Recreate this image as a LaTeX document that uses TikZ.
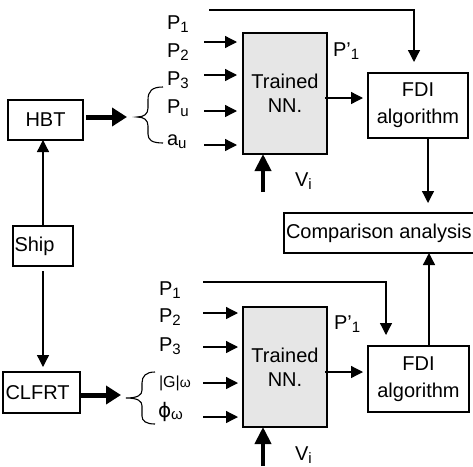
\documentclass[tikz,border=0pt]{standalone}
\usepackage{fontspec}
\setmainfont{Liberation Sans}
\newfontfamily\dejavu{DejaVu Sans}
\usetikzlibrary{arrows.meta}
\definecolor{nnfill}{RGB}{230,230,230}
\newcommand\sbs[1]{\raisebox{-3.5pt}{\fontsize{15}{15}\selectfont #1}}
\begin{document}
\begin{tikzpicture}[x=1pt,y=-1pt,
  every node/.style={font=\fontsize{20}{24}\selectfont, inner sep=0pt, outer sep=0pt},
  box/.style={draw, line width=1.3pt},
  nnbox/.style={box, fill=nnfill, minimum width=84pt, align=center},
  fdibox/.style={box, minimum width=100pt, minimum height=65pt, align=center, font=\fontsize{20}{27}\selectfont},
  lbl/.style={anchor=base west},
  arr/.style={-{Triangle[length=12pt,width=12pt]}, line width=1.3pt},
  tarr/.style={-{Triangle[length=15pt,width=18pt]}, line width=5pt},
  varr/.style={-{Triangle[length=17pt,width=16pt]}, line width=4pt}]
\useasboundingbox (0,0) rectangle (473,466);

% boxes
\node[box, minimum width=75pt, minimum height=40pt] (hbt) at (45.5,120) {HBT};
\node[box, minimum width=60pt, minimum height=40pt, text width=57pt, align=left] (ship) at (43,246) {Ship};
\node[box, minimum width=77pt, minimum height=41pt, text width=72pt, align=left] (clfrt) at (41.5,392.5) {CLFRT};
\node[nnbox, minimum height=121pt] (nn1) at (285,93.5) {Trained\\NN.};
\node[nnbox, minimum height=120pt] (nn2) at (285,367) {Trained\\NN.};
\node[fdibox] (fdi1) at (418,105.5) {FDI\\algorithm};
\node[fdibox, minimum width=101pt, minimum height=66pt] (fdi2) at (418.5,379) {FDI\\algorithm};
\node[box, inner xsep=2pt, minimum height=40pt, text width=190pt, align=flush left] (comp) at (381,233) {Comparison analysis};

% top labels
\node[lbl] (tp1) at (167,29) {P\sbs{1}};
\node[lbl] (tp2) at (167,57) {P\sbs{2}};
\node[lbl] (tp3) at (167,85) {P\sbs{3}};
\node[lbl] (tpu) at (167,113) {P\sbs{u}};
\node[lbl] (tau) at (167,145) {a\sbs{u}};
\node[lbl] (tpp) at (333,56) {P’\sbs{1}};
\node[lbl] (tvi) at (295,186) {V\sbs{i}};

% bottom labels
\node[lbl] (bp1) at (159,295) {P\sbs{1}};
\node[lbl] (bp2) at (159,322) {P\sbs{2}};
\node[lbl] (bp3) at (159,351) {P\sbs{3}};
\node[lbl] (bg) at (159,387) {{\fontsize{16}{16}\selectfont|G|}{\fontsize{14}{14}\selectfont ω}};
\node[lbl] (bphi) at (158,417) {{\dejavu\fontsize{20}{20}\selectfont ϕ}\raisebox{-2pt}{\fontsize{15}{15}\selectfont ω}};
\node[lbl] (bpp) at (334,329) {P’\sbs{1}};
\node[lbl] (bvi) at (295,460) {V\sbs{i}};

% braces
\draw[line width=1.1pt] (163,87) .. controls (152,87) and (148,91) .. (148,100) -- (148,108)
  .. controls (148,114) and (144,117) .. (137,117) .. controls (144,117) and (148,120) .. (148,126)
  -- (148,134) .. controls (148,140) and (152,143) .. (163,143);
\draw[line width=1.1pt] (155,372) .. controls (146,372) and (142,376) .. (142,383) -- (142,390)
  .. controls (142,395) and (138,398) .. (126,398) .. controls (138,398) and (142,401) .. (142,406)
  -- (142,416) .. controls (142,421) and (146,424) .. (155,424);
\coordinate (br1) at (137,117);
\coordinate (br2) at (125,395);

% coordinates
\coordinate (t1) at (209,10);  \coordinate (c1) at (414,10);
\coordinate (t2) at (204,42);  \coordinate (t3) at (204,75);
\coordinate (t4) at (204,111); \coordinate (t5) at (204,145);
\coordinate (b1) at (203,282); \coordinate (c2) at (386,282);
\coordinate (b2) at (203,313); \coordinate (b3) at (203,347);
\coordinate (b4) at (203,383); \coordinate (b5) at (203,417);
\coordinate (o1) at (325,98);  \coordinate (o2) at (325,372);
\coordinate (d1) at (428,138); \coordinate (d2) at (429,346);
\coordinate (v1) at (263,192); \coordinate (v2) at (263,466);

% connectors top
\draw[arr, shorten >=11pt] (t1) -- (c1) -- (c1 |- fdi1.north);
\foreach \c in {t2,t3,t4,t5} \draw[arr, shorten >=6pt] (\c) -- (\c -| nn1.west);
\draw[arr, shorten >=5pt] (o1) -- (o1 -| fdi1.west);
\draw[arr, shorten >=10pt] (d1 |- fdi1.south) -- (d1 |- comp.north);
\draw[varr] (v1) -- (v1 |- nn1.south);
\draw[tarr, shorten <=3pt, shorten >=10pt] (hbt.east |- br1) -- (br1);

% connectors bottom
\draw[arr, shorten >=11pt] (b1) -- (c2) -- (c2 |- fdi2.north);
\foreach \c in {b2,b3,b4,b5} \draw[arr, shorten >=5pt] (\c) -- (\c -| nn2.west);
\draw[arr, shorten >=5pt] (o2) -- (o2 -| fdi2.west);
\draw[arr] (d2 |- fdi2.north) -- (d2 |- comp.south);
\draw[varr] (v2) -- (v2 |- nn2.south);
\draw[tarr, shorten <=1pt, shorten >=4pt] (clfrt.east |- br2) -- (br2);

% ship links
\draw[arr] (ship.north) -- (ship.north |- hbt.south);
\draw[arr, shorten <=5pt, shorten >=5pt] (ship.south) -- (ship.south |- clfrt.north);
\end{tikzpicture}
\end{document}
